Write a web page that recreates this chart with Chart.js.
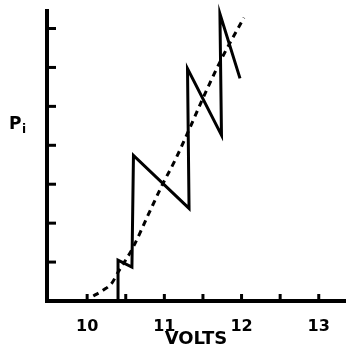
<!DOCTYPE html>
<html>
<head>
<meta charset="utf-8">
<script src="https://cdn.jsdelivr.net/npm/chart.js@4"></script>
<style>
  html, body { margin: 0; padding: 0; background: #fff; }
  #wrap { width: 346px; height: 350px; }
</style>
</head>
<body>
<div id="wrap"><canvas id="chart"></canvas></div>
<script>
// readings
const solidVolts = [10.40, 10.40, 10.58, 10.60, 11.32, 11.30, 11.74, 11.72, 11.98];
const solidPi = [0, 1.05, 0.87, 3.74, 2.38, 5.97, 4.26, 7.38, 5.72];
const dashVolts = [10.08, 10.21, 10.32, 10.40, 10.59, 10.79, 10.97, 11.14, 11.30, 11.50, 11.73, 12.03];
const dashPi = [0.13, 0.28, 0.46, 0.74, 1.36, 2.21, 2.97, 3.62, 4.31, 5.21, 6.18, 7.28];
const voltTicks = [10, 10.5, 11, 11.5, 12, 12.5, 13];
const voltLabels = ['10', '', '11', '', '12', '', '13'];
const piTicks = [1, 2, 3, 4, 5, 6, 7];

const toPoints = (xs, ys) => xs.map((x, i) => ({ x: x, y: ys[i] }));

// ticks in the drawing point into the plot, so draw them ourselves
const inwardTicks = {
  id: 'inwardTicks',
  afterDraw(chart) {
    const { ctx, chartArea, scales } = chart;
    ctx.save();
    ctx.strokeStyle = '#000';
    ctx.lineWidth = 3;
    voltTicks.forEach(v => {
      const px = scales.x.getPixelForValue(v);
      ctx.beginPath();
      ctx.moveTo(px, chartArea.bottom);
      ctx.lineTo(px, chartArea.bottom - 7);
      ctx.stroke();
    });
    piTicks.forEach(v => {
      const py = scales.y.getPixelForValue(v);
      ctx.beginPath();
      ctx.moveTo(chartArea.left, py);
      ctx.lineTo(chartArea.left + 9, py);
      ctx.stroke();
    });
    // axis label P with subscript i
    ctx.fillStyle = '#000';
    ctx.textBaseline = 'alphabetic';
    ctx.font = 'bold 17px "DejaVu Sans"';
    ctx.fillText('P', 9, 129);
    ctx.font = 'bold 12px "DejaVu Sans"';
    ctx.fillText('i', 22, 133);
    ctx.restore();
  }
};

new Chart(document.getElementById('chart'), {
  type: 'line',
  data: {
    datasets: [{
      data: toPoints(solidVolts, solidPi),
      borderColor: '#000',
      borderWidth: 3,
      pointRadius: 0,
      tension: 0,
      borderJoinStyle: 'miter'
    }, {
      data: toPoints(dashVolts, dashPi),
      borderColor: '#000',
      borderWidth: 3,
      borderDash: [6, 5],
      pointRadius: 0,
      cubicInterpolationMode: 'monotone'
    }]
  },
  options: {
    responsive: true,
    maintainAspectRatio: false,
    animation: false,
    clip: false,
    layout: { padding: { top: 11, right: 1, left: 0, bottom: 0 } },
    plugins: { legend: { display: false }, tooltip: { enabled: false } },
    scales: {
      x: {
        type: 'linear',
        min: 9.48,
        max: 13.34,
        afterBuildTicks: s => { s.ticks = voltTicks.map(v => ({ value: v })); },
        afterFit: s => { s.height = 49; },
        grid: { display: false },
        border: { display: true, color: '#000', width: 4 },
        ticks: {
          color: '#000',
          padding: 8,
          maxRotation: 0,
          autoSkip: false,
          font: { family: 'DejaVu Sans', size: 16, weight: 'bold' },
          callback: (v, i) => voltLabels[i]
        },
        title: {
          display: true,
          text: 'VOLTS',
          color: '#000',
          padding: { top: 2, bottom: 0 },
          font: { family: 'DejaVu Sans', size: 18, weight: 'bold' }
        }
      },
      y: {
        min: 0,
        max: 7.45,
        afterBuildTicks: s => { s.ticks = piTicks.map(v => ({ value: v })); },
        afterFit: s => { s.width = 47; },
        grid: { display: false },
        border: { display: true, color: '#000', width: 4 },
        ticks: { display: false }
      }
    }
  },
  plugins: [inwardTicks]
});
</script>
</body>
</html>
